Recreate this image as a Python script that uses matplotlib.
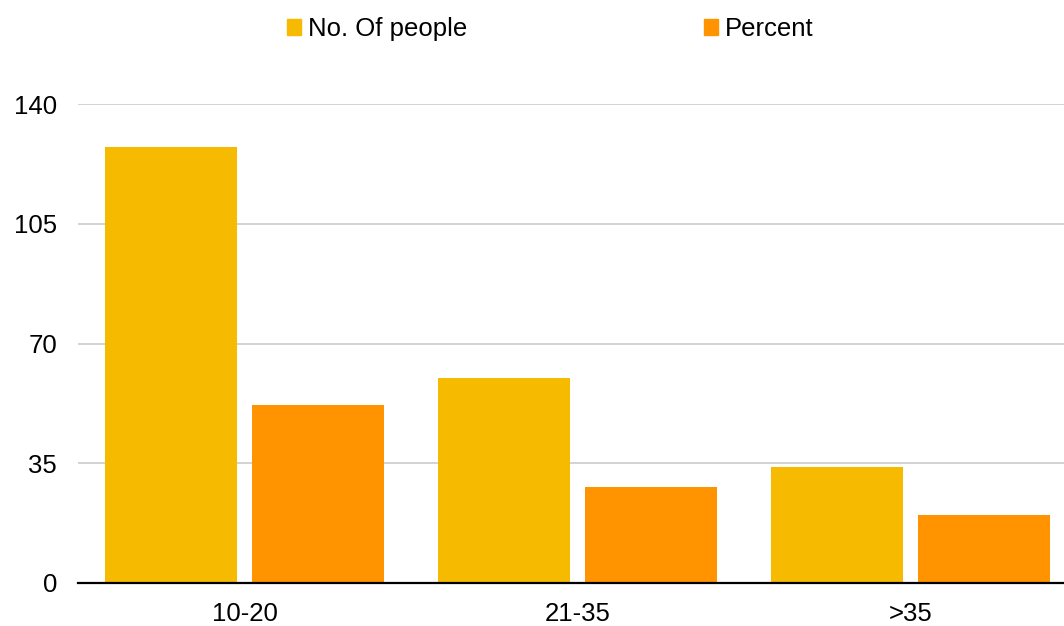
import numpy as np
import matplotlib.pyplot as plt
from matplotlib.patches import Patch

categories = ["10-20", "21-35", ">35"]
people = [127.5, 60, 34]
percent = [52, 28, 20]
yticks = [0, 35, 70, 105, 140]

plt.rcParams['font.family'] = ['Liberation Sans', 'DejaVu Sans']

W, H = 1064, 626
fig = plt.figure(figsize=(W / 100, H / 100), dpi=100)
# the plot area runs a little past the right edge of the picture
ax = fig.add_axes([78 / W, 1 - 583 / H, 999 / W, (583 - 104) / H])

x = np.arange(len(categories))
c_people = '#F6BB00'
c_pct = '#FF9400'
ax.bar(x - 0.22, people, width=0.396, color=c_people, zorder=2)
ax.bar(x + 0.22, percent, width=0.396, color=c_pct, zorder=2)

ax.set_xlim(-0.5, 2.5)
ax.set_ylim(0, 140)
ax.set_yticks(yticks)
ax.set_yticklabels([str(v) for v in yticks], fontsize=18.5)
ax.set_xticks(x)
ax.set_xticklabels(categories, fontsize=18.5)
ax.tick_params(axis='both', length=0)
ax.tick_params(axis='y', pad=15)
ax.tick_params(axis='x', pad=14)
ax.yaxis.grid(True, color='#cccccc', linewidth=1.2, zorder=0)
ax.set_axisbelow(True)
for s in ['top', 'right', 'left']:
    ax.spines[s].set_visible(False)
ax.spines['bottom'].set_color('black')
ax.spines['bottom'].set_linewidth(1.6)
ax.spines['bottom'].set_zorder(3)

handles = [Patch(color=c_people, label='No. Of people'),
           Patch(color=c_pct, label='Percent')]
fig.legend(handles=handles, loc='center', bbox_to_anchor=(550 / W, 1 - 29 / H),
           ncol=2, frameon=False, fontsize=18.5, handlelength=0.55,
           handleheight=0.55, handletextpad=0.27, columnspacing=9.2,
           borderpad=0)

fig.savefig('out.png', dpi=100)
